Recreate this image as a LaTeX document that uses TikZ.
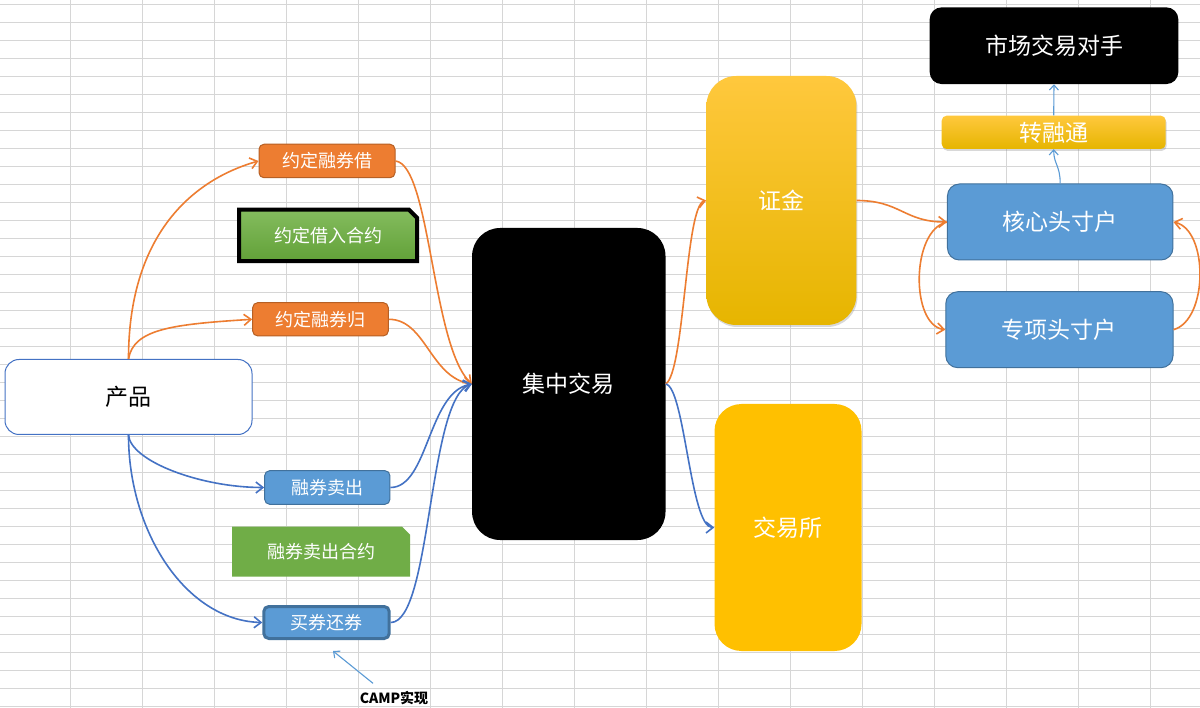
\documentclass[tikz,border=0pt]{standalone}
\usepackage{fontspec}
\newfontfamily\cjk{Noto Sans CJK SC}
\usetikzlibrary{arrows.meta,shapes.misc,shadows}

\definecolor{gridgray}{HTML}{D6D6D6}
\definecolor{orangefill}{HTML}{ED7D31}
\definecolor{orangeedge}{HTML}{B65F24}
\definecolor{bluefill}{HTML}{5B9BD5}
\definecolor{blueedge}{HTML}{41719C}
\definecolor{linkblue}{HTML}{4472C4}
\definecolor{greenfill}{HTML}{70AD47}
\definecolor{greentop}{HTML}{84BC5E}
\definecolor{greenbottom}{HTML}{62A138}
\definecolor{goldfill}{HTML}{FFC000}
\definecolor{goldtop}{HTML}{FFC83D}
\definecolor{goldbottom}{HTML}{E6B500}

\tikzset{
  label18/.style={font=\cjk\fontsize{18}{20}\selectfont},
  label23/.style={font=\cjk\fontsize{23}{26}\selectfont},
  orangebox/.style={rectangle, rounded corners=5pt, fill=orangefill, draw=orangeedge,
    line width=1pt, text=white, label18},
  bluebox/.style={rectangle, rounded corners=#1, fill=bluefill, draw=blueedge,
    line width=1pt, text=white},
  greenbox/.style={chamfered rectangle, chamfered rectangle corners=north east,
    chamfered rectangle xsep=4pt, chamfered rectangle ysep=4pt, text=white, label18},
  blackbox/.style={rectangle, rounded corners=#1, fill=black, text=white, label23},
  goldbox/.style={rectangle, rounded corners=#1, text=white, label23},
  goldshade/.style={top color=goldtop, middle color=goldfill, bottom color=goldbottom,
    drop shadow={shadow xshift=1pt, shadow yshift=-2pt, opacity=0.3}},
  orangelink/.style={draw=orangefill, line width=1.6pt,
    -{Straight Barb[length=7pt,width=11pt]}},
  bluelink/.style={draw=linkblue, line width=1.6pt,
    -{Straight Barb[length=7pt,width=11pt]}},
  thinlink/.style={draw=bluefill, line width=1.1pt,
    -{Straight Barb[length=5pt,width=9pt]}}
}

\begin{document}
\begin{tikzpicture}[x=1pt, y=-1pt, inner sep=0pt]
  \useasboundingbox (0,0) rectangle (1200,708);
  \fill[white] (0,0) rectangle (1200,708);
  % sheet grid
  \foreach \i in {0,...,15}
    \draw[gridgray, line width=0.9pt] ({70.7+72*\i},0) -- ({70.7+72*\i},708);
  \foreach \j in {0,...,39}
    \draw[gridgray, line width=0.9pt] (0,{4.7+18*\j}) -- (1200,{4.7+18*\j});

  \draw
    (128.5,397) node[rectangle, rounded corners=14pt, fill=white, draw=linkblue,
      line width=1pt, minimum width=247pt, minimum height=75pt,
      font=\cjk\fontsize{23}{25}\selectfont] (chanpin) {产品}
    (327,161) node[orangebox, minimum width=136pt, minimum height=33.5pt] (jieru) {约定融券借}
    (328,235.5) node[greenbox, draw=black, line width=4pt, top color=greentop,
      middle color=greenfill, bottom color=greenbottom,
      minimum width=178pt, minimum height=51.5pt] (jieheyue) {约定借入合约}
    (320.5,319.3) node[orangebox, minimum width=135.6pt, minimum height=33.3pt] (guihuan) {约定融券归}
    (327.3,487.5) node[bluebox=5pt, label18, minimum width=125.3pt, minimum height=33.6pt] (maichu) {融券卖出}
    (321,551.7) node[greenbox, fill=greenfill, minimum width=178pt, minimum height=50pt] (maichuheyue) {融券卖出合约}
    (326.5,622.5) node[bluebox=5pt, label18, line width=3pt, minimum width=125.4pt,
      minimum height=32pt] (huanquan) {买券还券}
    (394,698.3) node[font=\cjk\bfseries\fontsize{14}{16}\selectfont] (camp) {CAMP实现}
    (568.8,384) node[blackbox=28pt, minimum width=193.4pt, minimum height=312pt] (jizhong) {集中交易}
    (781.4,200.5) node[goldbox=30pt, goldshade,
      minimum width=150pt, minimum height=249pt] (zhengjin) {证金}
    (788,527.5) node[goldbox=27pt, fill=goldfill, minimum width=147pt,
      minimum height=247pt] (jiaoyisuo) {交易所}
    (1054,45.7) node[blackbox=12pt, minimum width=248.7pt, minimum height=76.7pt] (duishou) {市场交易对手}
    (1053.7,132.3) node[goldbox=5pt, goldshade,
      minimum width=224pt, minimum height=33.3pt] (zhuanrong) {转融通}
    (1060.2,222) node[bluebox=12pt, label23, minimum width=225.5pt, minimum height=76pt] (hexin) {核心头寸户}
    (1059.4,329.7) node[bluebox=12pt, label23, minimum width=227.2pt, minimum height=76pt] (zhuanxiang) {专项头寸户};

  \coordinate (camptip) at (333,651);

  \begin{scope}[orangelink]
    \draw (chanpin.north) .. controls +(0,-120) and +(-70,20) .. (jieru.west);
    \draw (chanpin.north) .. controls +(5,-30) and +(-80,5) .. (guihuan.west);
    \draw (jieru.east) .. controls +(35,4) and +(-40,-37) .. (jizhong.west);
    \draw (guihuan.east) .. controls +(37,0) and +(-42,-7) .. (jizhong.west);
    \draw (jizhong.east) .. controls +(19,-12) and +(-21,5) .. (zhengjin.west);
    \draw (zhengjin.east) .. controls +(44,0) and +(-43,0) .. (hexin.west);
    \draw (hexin.west) .. controls +(-36,8) and +(-35,-5) .. (zhuanxiang.west);
    \draw (zhuanxiang.east) .. controls +(35,-10) and +(35,8) .. (hexin.east);
  \end{scope}
  \begin{scope}[bluelink]
    \draw (chanpin.south) .. controls +(2,26) and +(-64,0) .. (maichu.west);
    \draw (chanpin.south) .. controls +(0,96) and +(-77,-2) .. (huanquan.west);
    \draw (maichu.east) .. controls +(38,0) and +(-44,8) .. (jizhong.west);
    \draw (huanquan.east) .. controls +(41,0) and +(-44,13) .. (jizhong.west);
    \draw (jizhong.east) .. controls +(19,3) and +(-24,0) .. (jiaoyisuo.west);
  \end{scope}
  \begin{scope}[thinlink]
    \draw (hexin.north) .. controls +(0,-18) and +(0,15) .. (zhuanrong.south);
    \draw (zhuanrong.north) -- (duishou.south);
    \draw ([shift={(-21,-8)}]camp.north) -- (camptip);
  \end{scope}
\end{tikzpicture}
\end{document}
